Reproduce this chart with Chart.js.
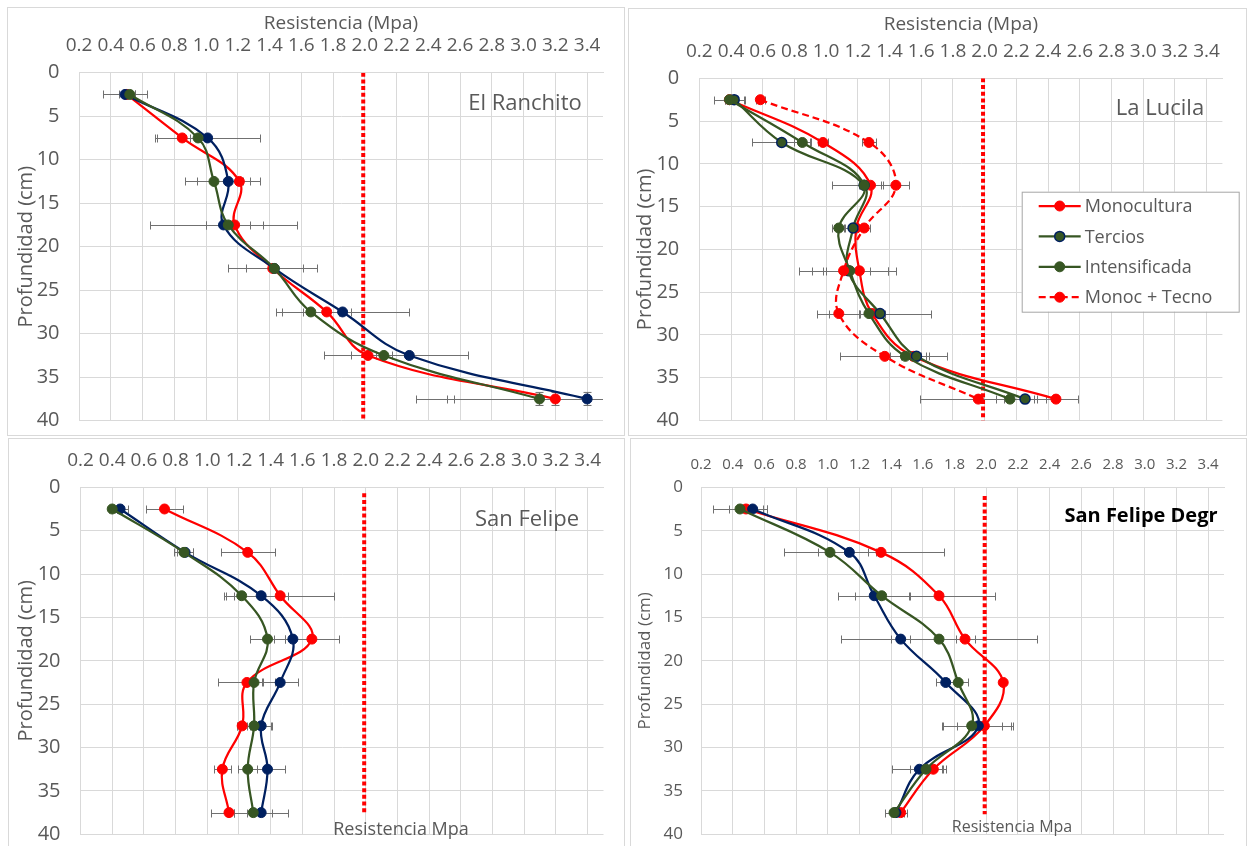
<!DOCTYPE html>
<html>
<head>
<meta charset="utf-8">
<script src="https://cdn.jsdelivr.net/npm/chart.js@4.4.1/dist/chart.umd.min.js"></script>
<style>
  body { margin: 0; background: #fff; width: 1247px; height: 846px; position: relative; overflow: hidden; font-family: 'Open Sans', sans-serif; }
  .box { position: absolute; border: 1px solid #D9D9D9; box-sizing: border-box; }
  canvas { position: absolute; }
  .lbl { position: absolute; color: #595959; white-space: nowrap; transform: translate(-50%, -50%); }
</style>
</head>
<body>
<div class="box" style="left:7px;top:7px;width:618px;height:429px"></div>
<div class="box" style="left:628px;top:8px;width:619px;height:428px"></div>
<div class="box" style="left:8px;top:438px;width:617px;height:410px"></div>
<div class="box" style="left:630px;top:438px;width:617px;height:410px"></div>

<canvas id="c1" width="618" height="429" style="left:7px;top:7px"></canvas>
<canvas id="c2" width="619" height="428" style="left:628px;top:8px"></canvas>
<canvas id="c3" width="617" height="408" style="left:8px;top:438px"></canvas>
<canvas id="c4" width="617" height="408" style="left:630px;top:438px"></canvas>

<div class="lbl" style="left:525px;top:101px;font-size:22px">El Ranchito</div>
<div class="lbl" style="left:1160px;top:106px;font-size:22px">La Lucila</div>
<div class="lbl" style="left:527px;top:517px;font-size:22px">San Felipe</div>
<div class="lbl" style="left:1141px;top:514px;font-size:20px;font-weight:bold;color:#000">San Felipe Degr</div>
<div class="lbl" style="left:401px;top:828px;font-size:18px">Resistencia Mpa</div>
<div class="lbl" style="left:1012px;top:826px;font-size:16px">Resistencia Mpa</div>

<script>
const FONT = "'Open Sans', sans-serif";
const RED = '#FF0000', NAVY = '#002060', GREEN = '#375623';

// depths (cm) and axis ticks
const depth = [2.5, 7.5, 12.5, 17.5, 22.5, 27.5, 32.5, 37.5];
const resTicks = [0.2, 0.4, 0.6, 0.8, 1.0, 1.2, 1.4, 1.6, 1.8, 2.0, 2.2, 2.4, 2.6, 2.8, 3.0, 3.2, 3.4];
const depthTicks = [0, 5, 10, 15, 20, 25, 30, 35, 40];
const limitRes = 1.99;

// El Ranchito
const ranMono = [0.50, 0.85, 1.21, 1.18, 1.42, 1.76, 2.02, 3.20];
const ranMonoErr = [0.05, 0.16, 0.07, 0.18, 0.28, 0.15, 0.28, 0.68];
const ranTer = [0.49, 1.01, 1.14, 1.11, 1.43, 1.86, 2.28, 3.40];
const ranTerErr = [0.14, 0.33, 0.20, 0.46, 0.18, 0.42, 0.37, 1.08];
const ranInt = [0.52, 0.95, 1.05, 1.14, 1.43, 1.66, 2.12, 3.10];
const ranIntErr = [0.03, 0.05, 0.185, 0.14, 0.02, 0.18, 0.05, 0.54];
const ranDepthErr = [0, 0, 0, 0, 0, 0, 0, 0.75];

// La Lucila
const lucMono = [0.39, 0.98, 1.28, 1.19, 1.21, 1.29, 1.55, 2.45];
const lucMonoErr = [0.10, 0.03, 0.067, 0.04, 0.23, 0.08, 0.08, 0.14];
const lucTer = [0.42, 0.72, 1.24, 1.17, 1.14, 1.34, 1.57, 2.255];
const lucTerErr = [0.06, 0.185, 0.20, 0.06, 0.14, 0.32, 0.19, 0.135];
const lucInt = [0.39, 0.85, 1.24, 1.08, 1.15, 1.27, 1.50, 2.16];
const lucIntErr = [0.03, 0.05, 0.03, 0.04, 0.24, 0.06, 0.10, 0.09];
const lucTec = [0.585, 1.27, 1.44, 1.24, 1.11, 1.08, 1.37, 1.96];
const lucTecErr = [0.03, 0.045, 0.08, 0.04, 0.28, 0.136, 0.28, 0.37];

// San Felipe
const sfMono = [0.73, 1.255, 1.46, 1.66, 1.25, 1.22, 1.095, 1.137];
const sfMonoErr = [0.115, 0.17, 0.34, 0.17, 0.18, 0.03, 0.055, 0.115];
const sfTer = [0.45, 0.86, 1.34, 1.54, 1.46, 1.34, 1.38, 1.34];
const sfTerErr = [0.05, 0.05, 0.17, 0.12, 0.11, 0.07, 0.11, 0.17];
const sfInt = [0.40, 0.853, 1.217, 1.38, 1.295, 1.295, 1.255, 1.29];
const sfIntErr = [0.02, 0.06, 0.11, 0.11, 0.05, 0.11, 0.06, 0.12];

// San Felipe Degr
const sfdMono = [0.484, 1.336, 1.702, 1.866, 2.107, 1.988, 1.666, 1.46];
const sfdMonoErr = [0.11, 0.40, 0.35, 0.06, 0, 0.17, 0.06, 0.04];
const sfdTer = [0.526, 1.136, 1.293, 1.46, 1.744, 1.95, 1.578, 1.43];
const sfdTerErr = [0.09, 0.116, 0.226, 0.06, 0.06, 0.22, 0.17, 0.03];
const sfdInt = [0.446, 1.014, 1.34, 1.702, 1.823, 1.908, 1.62, 1.418];
const sfdIntErr = [0.17, 0.29, 0.17, 0.62, 0.06, 0.19, 0.10, 0.06];

function series(label, vals, err, color, extra) {
  return Object.assign({
    label: label,
    data: depth.map((d, i) => ({ x: vals[i], y: d })),
    errX: err,
    borderColor: color,
    backgroundColor: color,
    pointBackgroundColor: color,
    pointBorderColor: color,
    pointBorderWidth: 1,
    pointRadius: 5,
    borderWidth: 2.25,
    tension: 0.4,
    showLine: true
  }, extra || {});
}

function limitLine(y0, y1) {
  return {
    label: 'limite',
    data: [{ x: limitRes, y: y0 }, { x: limitRes, y: y1 }],
    borderColor: RED,
    borderWidth: 4,
    borderDash: [4, 2.7],
    pointRadius: 0,
    showLine: true,
    tension: 0,
    order: 10,
    noLegend: true
  };
}

// horizontal (and a few vertical) error bars
const errorBars = {
  id: 'errorBars',
  beforeDatasetsDraw(chart) {
    const { ctx, chartArea: a, scales: { x, y } } = chart;
    ctx.save();
    ctx.beginPath();
    ctx.rect(a.left, a.top, a.right - a.left, a.bottom - a.top);
    ctx.clip();
    ctx.strokeStyle = '#707070';
    ctx.lineWidth = 1;
    chart.data.datasets.forEach(ds => {
      if (!ds.errX) return;
      ds.data.forEach((p, i) => {
        const py = Math.round(y.getPixelForValue(p.y)) + 0.5;
        const e = ds.errX[i];
        ctx.beginPath();
        if (e) {
          const x0 = Math.round(x.getPixelForValue(p.x - e)) + 0.5;
          const x1 = Math.round(x.getPixelForValue(p.x + e)) + 0.5;
          ctx.moveTo(x0, py); ctx.lineTo(x1, py);
          ctx.moveTo(x0, py - 4); ctx.lineTo(x0, py + 4);
          ctx.moveTo(x1, py - 4); ctx.lineTo(x1, py + 4);
        }
        const ey = ds.errY ? ds.errY[i] : 0;
        if (ey) {
          const px = Math.round(x.getPixelForValue(p.x)) + 0.5;
          const y0 = y.getPixelForValue(p.y - ey), y1 = y.getPixelForValue(p.y + ey);
          ctx.moveTo(px, y0); ctx.lineTo(px, y1);
          ctx.moveTo(px - 4, y0); ctx.lineTo(px + 4, y0);
          ctx.moveTo(px - 4, y1); ctx.lineTo(px + 4, y1);
        }
        ctx.stroke();
      });
    });
    ctx.restore();
  }
};

// boxed legend inside the plot (La Lucila)
const boxLegend = {
  id: 'boxLegend',
  afterDatasetsDraw(chart, args, o) {
    if (!o || !o.show) return;
    const ctx = chart.ctx;
    ctx.save();
    ctx.fillStyle = '#fff';
    ctx.fillRect(o.left, o.top, o.width, o.height);
    ctx.strokeStyle = '#A6A6A6';
    ctx.lineWidth = 1;
    ctx.strokeRect(o.left + 0.5, o.top + 0.5, o.width, o.height);
    const items = chart.data.datasets.filter(d => !d.noLegend);
    items.forEach((ds, i) => {
      const yy = o.top + o.firstRow + i * o.rowGap;
      ctx.strokeStyle = ds.borderColor;
      ctx.lineWidth = ds.borderWidth;
      ctx.setLineDash(ds.borderDash || []);
      ctx.beginPath();
      ctx.moveTo(o.left + 17, yy); ctx.lineTo(o.left + 59, yy);
      ctx.stroke();
      ctx.setLineDash([]);
      ctx.beginPath();
      ctx.arc(o.left + 38, yy, 5, 0, Math.PI * 2);
      ctx.fillStyle = ds.pointBackgroundColor;
      ctx.fill();
      ctx.lineWidth = ds.pointBorderWidth;
      ctx.strokeStyle = ds.pointBorderColor;
      ctx.stroke();
      ctx.fillStyle = '#595959';
      ctx.font = '18px ' + FONT;
      ctx.textBaseline = 'middle';
      ctx.fillText(ds.label, o.left + 63, yy + 1);
    });
    ctx.restore();
  }
};

function options(g) {
  return {
    responsive: false,
    animation: false,
    devicePixelRatio: 1,
    layout: { padding: { left: 0, top: 0, right: g.padRight, bottom: g.padBottom } },
    plugins: {
      legend: { display: false },
      tooltip: { enabled: false },
      boxLegend: g.legend || { show: false }
    },
    scales: {
      x: {
        type: 'linear',
        position: 'top',
        min: 0.2,
        max: 3.5,
        afterBuildTicks: s => { s.ticks = resTicks.map(v => ({ value: v })); },
        afterFit: s => { s.height = g.xHeight; s.paddingLeft = 0; s.paddingRight = 0; },
        ticks: {
          autoSkip: false, maxRotation: 0, minRotation: 0,
          padding: g.xTickPad, color: '#595959',
          font: { family: FONT, size: g.xTickSize },
          callback: v => Number(v).toFixed(1)
        },
        grid: { color: '#D9D9D9', lineWidth: 1, drawTicks: false },
        border: { color: '#D9D9D9' },
        title: {
          display: !!g.xTitle, text: g.xTitle || '', color: '#595959',
          font: { family: FONT, size: 19 }, padding: { top: g.xTitlePad, bottom: 0 }
        }
      },
      y: {
        type: 'linear',
        reverse: true,
        min: 0,
        max: 40,
        afterBuildTicks: s => { s.ticks = depthTicks.map(v => ({ value: v })); },
        // fixed width, and no extra room for the end labels
        afterFit: s => { s.width = g.yWidth; s.paddingTop = 0; s.paddingBottom = 0; },
        ticks: {
          padding: g.yTickPad, color: '#595959',
          font: { family: FONT, size: g.yTickSize }
        },
        grid: { color: '#D9D9D9', lineWidth: 1, drawTicks: false },
        border: { color: '#D9D9D9' },
        title: {
          display: true, text: 'Profundidad (cm)', color: '#595959',
          font: { family: FONT, size: g.yTitleSize }, padding: { top: g.yTitlePad, bottom: 0 }
        }
      }
    }
  };
}

new Chart(document.getElementById('c1'), {
  type: 'scatter',
  data: {
    datasets: [
      series('Monocultura', ranMono, ranMonoErr, RED, { order: 3, errY: ranDepthErr }),
      series('Tercios', ranTer, ranTerErr, NAVY, { order: 2, errY: ranDepthErr }),
      series('Intensificada', ranInt, ranIntErr, GREEN, { order: 1, errY: ranDepthErr }),
      limitLine(0, 40)
    ]
  },
  options: options({
    yWidth: 72, xHeight: 65.7, padRight: 22, padBottom: 15.3,
    xTickPad: 15.3, xTickSize: 19, yTickSize: 20, yTickPad: 19.5,
    xTitle: 'Resistencia (Mpa)', xTitlePad: 5.6, yTitleSize: 20, yTitlePad: 7
  }),
  plugins: [errorBars, boxLegend]
});

new Chart(document.getElementById('c2'), {
  type: 'scatter',
  data: {
    datasets: [
      series('Monocultura', lucMono, lucMonoErr, RED, { order: 4 }),
      series('Tercios', lucTer, lucTerErr, GREEN, { order: 3, pointBorderColor: NAVY, pointBorderWidth: 1.5 }),
      series('Intensificada', lucInt, lucIntErr, GREEN, { order: 2 }),
      series('Monoc + Tecno', lucTec, lucTecErr, RED, { order: 1, borderDash: [7, 4] }),
      limitLine(0, 40)
    ]
  },
  options: options({
    yWidth: 71.3, xHeight: 70.3, padRight: 24.6, padBottom: 15.5,
    xTickPad: 15.2, xTickSize: 19, yTickSize: 20, yTickPad: 20,
    xTitle: 'Resistencia (Mpa)', xTitlePad: 5.6, yTitleSize: 20, yTitlePad: 5,
    legend: { show: true, left: 393.7, top: 183.7, width: 217, height: 120, firstRow: 14.3, rowGap: 30.4 }
  }),
  plugins: [errorBars, boxLegend]
});

new Chart(document.getElementById('c3'), {
  type: 'scatter',
  data: {
    datasets: [
      series('Monocultura', sfMono, sfMonoErr, RED, { order: 3 }),
      series('Tercios', sfTer, sfTerErr, NAVY, { order: 2 }),
      series('Intensificada', sfInt, sfIntErr, GREEN, { order: 1 }),
      limitLine(0.7, 37.6)
    ]
  },
  options: options({
    yWidth: 72.5, xHeight: 49.3, padRight: 21.5, padBottom: 11.7,
    xTickPad: 14.9, xTickSize: 19, yTickSize: 20, yTickPad: 20,
    yTitleSize: 20, yTitlePad: 6
  }),
  plugins: [errorBars, boxLegend]
});

new Chart(document.getElementById('c4'), {
  type: 'scatter',
  data: {
    datasets: [
      series('Monocultura', sfdMono, sfdMonoErr, RED, { order: 3 }),
      series('Tercios', sfdTer, sfdTerErr, NAVY, { order: 2 }),
      series('Intensificada', sfdInt, sfdIntErr, GREEN, { order: 1 }),
      limitLine(1, 37.7)
    ]
  },
  options: options({
    yWidth: 71, xHeight: 49.3, padRight: 23, padBottom: 11.7,
    xTickPad: 13.3, xTickSize: 15, yTickSize: 17, yTickPad: 18,
    yTitleSize: 17, yTitlePad: 4.8
  }),
  plugins: [errorBars, boxLegend]
});
</script>
</body>
</html>
